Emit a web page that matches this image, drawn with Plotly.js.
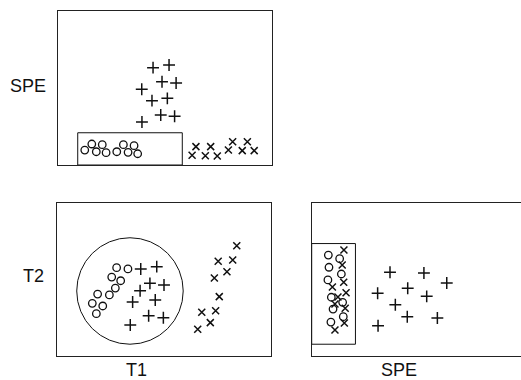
<!DOCTYPE html>
<html>
<head>
<meta charset="utf-8">
<script src="https://cdn.plot.ly/plotly-3.0.1.min.js"></script>
<style>html,body{margin:0;padding:0;background:#fff;}#chart{width:521px;height:380px;}</style>
</head>
<body>
<div id="chart"></div>
<script>
// ---- Panel A: T1 (x) vs SPE (y) ----
const aCircleT1 = [12.4, 15.7, 17.8, 20.6, 22.4, 27.4, 30.5, 32.7, 35.5, 37.2];
const aCircleSPE = [9.7, 13.6, 8.6, 13.2, 8.0, 8.6, 13.2, 8.2, 12.5, 7.3];
const aPlusT1 = [44.4, 51.9, 48.6, 55.2, 39.1, 43.9, 51.1, 48.0, 54.5, 39.2];
const aPlusSPE = [63.1, 64.8, 54.0, 53.1, 49.1, 41.7, 43.2, 32.4, 31.6, 27.9];
const aCrossT1 = [64.5, 62.7, 71.4, 68.9, 74.5, 81.7, 79.7, 88.6, 86.2, 91.8];
const aCrossSPE = [11.9, 6.3, 11.9, 6.0, 5.8, 15.1, 9.7, 15.1, 9.3, 9.3];

// ---- Panel B: T1 (x) vs T2 (y) ----
const bCircleT1 = [27.8, 33.1, 25.5, 29.7, 27.2, 18.9, 24.4, 16.4, 21.3, 18.3];
const bCircleT2 = [57.5, 56.7, 51.4, 49.0, 44.2, 40.3, 39.7, 34.2, 32.5, 27.5];
const bPlusT1 = [39.1, 46.6, 43.4, 50.0, 38.8, 35.3, 45.9, 42.8, 49.7, 34.2];
const bPlusT2 = [56.7, 58.2, 47.3, 46.2, 42.5, 35.1, 36.4, 26.1, 24.8, 20.1];
const bCrossT1 = [84.1, 75.4, 82.2, 79.5, 73.6, 75.9, 67.7, 74.2, 71.7, 65.8];
const bCrossT2 = [71.9, 61.7, 62.5, 54.9, 50.8, 38.6, 28.4, 29.4, 21.6, 17.3];

// ---- Panel C: SPE (x) vs T2 (y) ----
const cCircleSPE = [7.8, 13.1, 8.1, 13.9, 7.6, 9.2, 14.5, 10.0, 14.8, 9.0];
const cCircleT2 = [65.8, 63.4, 57.8, 53.4, 49.5, 38.2, 34.9, 30.5, 25.5, 22.0];
const cPlusSPE = [36.7, 52.6, 63.3, 30.9, 45.0, 53.9, 39.2, 44.8, 58.9, 31.1];
const cPlusT2 = [54.5, 54.1, 47.5, 40.8, 44.1, 38.8, 33.3, 25.5, 24.6, 19.6];
const cCrossSPE = [15.1, 14.3, 15.0, 9.7, 16.1, 10.9, 15.7, 15.3, 10.9, 12.3];
const cCrossT2 = [69.1, 59.3, 48.0, 44.9, 41.2, 33.8, 31.0, 21.4, 16.8, 38.4];

// control limits
const speLimit = 20.9;
const t1Limits = [9.1, 58.1];
const t2Ellipse = {t1: [9.1, 59.0], t2: [7.5, 77.1]};
const boxC = {spe: [0, 20.5], t2: [7.5, 73.3]};

const ink = '#111';
const circleM = {symbol: 'circle-open', size: 7.5, color: ink, line: {color: ink, width: 1.3}};
const plusM = {symbol: 'cross-thin-open', size: 8.5, color: ink, line: {color: ink, width: 1.5}};
const crossM = {symbol: 'x-thin-open', size: 7, color: ink, line: {color: ink, width: 1.5}};

function tr(x, y, m, xa, ya) {
  return {type: 'scatter', mode: 'markers', x: x, y: y, marker: m, xaxis: xa, yaxis: ya, hoverinfo: 'skip'};
}
const data = [
  tr(aCircleT1, aCircleSPE, circleM, 'x', 'y'),
  tr(aPlusT1, aPlusSPE, plusM, 'x', 'y'),
  tr(aCrossT1, aCrossSPE, crossM, 'x', 'y'),
  tr(bCircleT1, bCircleT2, circleM, 'x2', 'y2'),
  tr(bPlusT1, bPlusT2, plusM, 'x2', 'y2'),
  tr(bCrossT1, bCrossT2, crossM, 'x2', 'y2'),
  tr(cCircleSPE, cCircleT2, circleM, 'x3', 'y3'),
  tr(cPlusSPE, cPlusT2, plusM, 'x3', 'y3'),
  tr(cCrossSPE, cCrossT2, crossM, 'x3', 'y3')
];

const W = 521, H = 380;
const frame = '#222';
function ax(domain, range, anchor, mirror) {
  return {domain: domain, range: range, anchor: anchor, showline: true, mirror: mirror,
    linecolor: frame, linewidth: 1, ticks: '', showticklabels: false, showgrid: false,
    zeroline: false, fixedrange: true};
}
function label(text, px, py) {
  return {text: text, xref: 'paper', yref: 'paper', x: px / W, y: 1 - py / H, showarrow: false,
    xanchor: 'center', yanchor: 'middle', borderpad: 0, font: {size: 18, color: ink}};
}
const layout = {
  width: W, height: H,
  margin: {l: 0, r: 0, t: 0, b: 0},
  paper_bgcolor: '#fff', plot_bgcolor: '#fff',
  showlegend: false,
  font: {family: 'Liberation Sans, Arial, sans-serif', color: ink},
  xaxis: ax([58.3 / W, 271.7 / W], [0, 100], 'y', true),
  yaxis: ax([1 - 165 / H, 1 - 10.7 / H], [0, 100], 'x', true),
  xaxis2: ax([57.3 / W, 270.7 / W], [0, 100], 'y2', true),
  yaxis2: ax([1 - 355.7 / H, 1 - 202.7 / H], [0, 100], 'x2', true),
  xaxis3: ax([311.7 / W, 1], [0, 98.1], 'y3', true),
  yaxis3: ax([1 - 355.7 / H, 1 - 202.7 / H], [0, 100], 'x3', false),
  shapes: [
    {type: 'rect', xref: 'x', yref: 'y', x0: t1Limits[0], x1: t1Limits[1], y0: 0, y1: speLimit,
     line: {color: ink, width: 1}},
    {type: 'circle', xref: 'x2', yref: 'y2', x0: t2Ellipse.t1[0], x1: t2Ellipse.t1[1],
     y0: t2Ellipse.t2[0], y1: t2Ellipse.t2[1], line: {color: ink, width: 1}},
    {type: 'rect', xref: 'x3', yref: 'y3', x0: boxC.spe[0], x1: boxC.spe[1], y0: boxC.t2[0], y1: boxC.t2[1],
     line: {color: ink, width: 1}}
  ],
  annotations: [
    label('SPE', 27.5, 86.3),
    label('T2', 33.5, 276),
    label('T1', 136.5, 369.5),
    label('SPE', 398.8, 369.5)
  ]
};
Plotly.newPlot('chart', data, layout, {staticPlot: true, displayModeBar: false});
</script>
</body>
</html>
